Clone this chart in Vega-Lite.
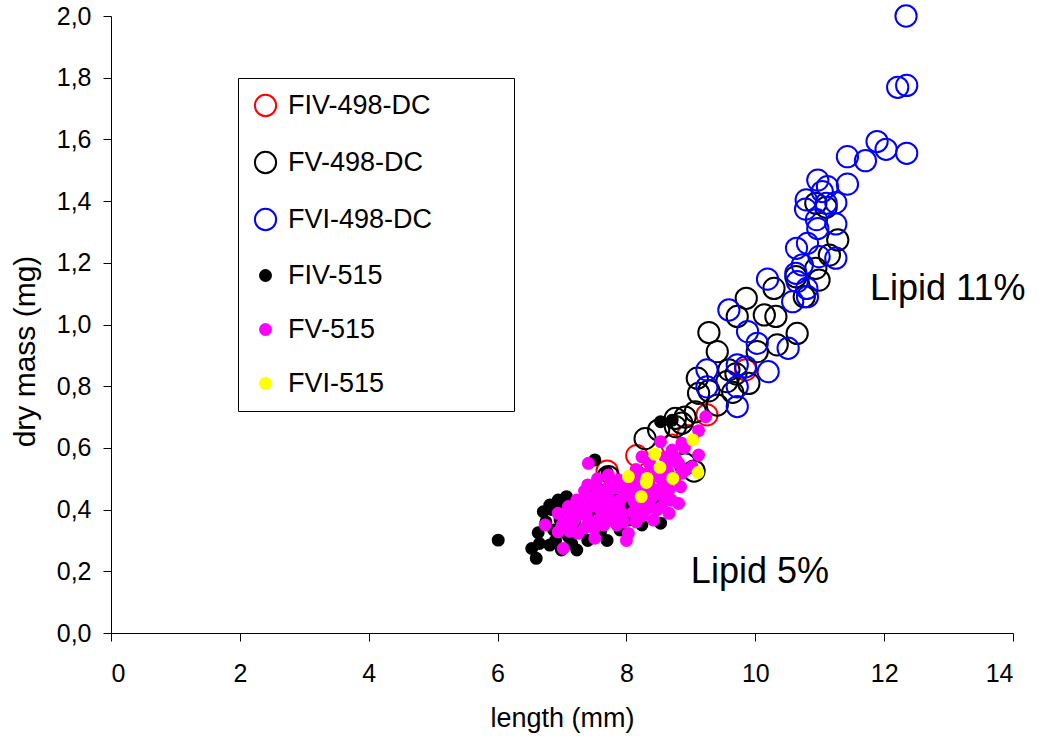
{
  "$schema": "https://vega.github.io/schema/vega-lite/v6.json",
  "width": 902,
  "height": 617,
  "autosize": {"type": "none"},
  "padding": {"left": 111, "top": 16, "right": 36, "bottom": 107},
  "background": "white",
  "config": {
    "view": {"stroke": null},
    "font": "Liberation Sans",
    "axis": {
      "grid": false,
      "domainColor": "#000000",
      "tickColor": "#000000",
      "domainWidth": 1,
      "tickWidth": 1,
      "tickSize": 8,
      "labelColor": "#000000",
      "titleColor": "#000000",
      "labelFont": "Liberation Sans",
      "titleFont": "Liberation Sans",
      "labelFontSize": 25,
      "titleFontSize": 27,
      "titleFontWeight": "normal"
    },
    "legend": {
      "labelLimit": 500
    }
  },
  "datasets": {
    "pts": [
      {"series": "FIV-498-DC", "length": 9.25, "mass": 0.707},
      {"series": "FIV-498-DC", "length": 8.95, "mass": 0.640},
      {"series": "FIV-498-DC", "length": 8.71, "mass": 0.609},
      {"series": "FIV-498-DC", "length": 8.16, "mass": 0.575},
      {"series": "FIV-498-DC", "length": 7.70, "mass": 0.525},
      {"series": "FIV-498-DC", "length": 7.51, "mass": 0.450},
      {"series": "FIV-498-DC", "length": 9.85, "mass": 0.853},
      {"series": "FIV-498-DC", "length": 8.45, "mass": 0.555},

      {"series": "FV-498-DC", "length": 8.29, "mass": 0.630},
      {"series": "FV-498-DC", "length": 8.50, "mass": 0.658},
      {"series": "FV-498-DC", "length": 8.76, "mass": 0.669},
      {"series": "FV-498-DC", "length": 7.72, "mass": 0.507},
      {"series": "FV-498-DC", "length": 8.91, "mass": 0.548},
      {"series": "FV-498-DC", "length": 9.05, "mass": 0.525},
      {"series": "FV-498-DC", "length": 8.86, "mass": 0.680},
      {"series": "FV-498-DC", "length": 8.76, "mass": 0.696},
      {"series": "FV-498-DC", "length": 8.91, "mass": 0.700},
      {"series": "FV-498-DC", "length": 9.07, "mass": 0.717},
      {"series": "FV-498-DC", "length": 9.12, "mass": 0.777},
      {"series": "FV-498-DC", "length": 9.28, "mass": 0.785},
      {"series": "FV-498-DC", "length": 9.41, "mass": 0.739},
      {"series": "FV-498-DC", "length": 9.10, "mass": 0.826},
      {"series": "FV-498-DC", "length": 9.56, "mass": 0.815},
      {"series": "FV-498-DC", "length": 9.90, "mass": 0.809},
      {"series": "FV-498-DC", "length": 9.59, "mass": 0.853},
      {"series": "FV-498-DC", "length": 9.70, "mass": 0.840},
      {"series": "FV-498-DC", "length": 9.65, "mass": 0.780},
      {"series": "FV-498-DC", "length": 9.41, "mass": 0.912},
      {"series": "FV-498-DC", "length": 10.03, "mass": 0.912},
      {"series": "FV-498-DC", "length": 9.28, "mass": 0.974},
      {"series": "FV-498-DC", "length": 9.72, "mass": 1.026},
      {"series": "FV-498-DC", "length": 9.86, "mass": 1.085},
      {"series": "FV-498-DC", "length": 10.14, "mass": 1.031},
      {"series": "FV-498-DC", "length": 10.32, "mass": 1.026},
      {"series": "FV-498-DC", "length": 10.34, "mass": 0.934},
      {"series": "FV-498-DC", "length": 10.65, "mass": 0.971},
      {"series": "FV-498-DC", "length": 10.29, "mass": 1.117},
      {"series": "FV-498-DC", "length": 10.99, "mass": 1.144},
      {"series": "FV-498-DC", "length": 10.63, "mass": 1.155},
      {"series": "FV-498-DC", "length": 10.94, "mass": 1.182},
      {"series": "FV-498-DC", "length": 11.15, "mass": 1.225},
      {"series": "FV-498-DC", "length": 11.28, "mass": 1.274},
      {"series": "FV-498-DC", "length": 10.94, "mass": 1.393},
      {"series": "FV-498-DC", "length": 11.10, "mass": 1.380},
      {"series": "FV-498-DC", "length": 10.76, "mass": 1.090},

      {"series": "FVI-498-DC", "length": 12.34, "mass": 2.000},
      {"series": "FVI-498-DC", "length": 12.21, "mass": 1.769},
      {"series": "FVI-498-DC", "length": 12.35, "mass": 1.775},
      {"series": "FVI-498-DC", "length": 11.89, "mass": 1.593},
      {"series": "FVI-498-DC", "length": 12.03, "mass": 1.568},
      {"series": "FVI-498-DC", "length": 12.35, "mass": 1.555},
      {"series": "FVI-498-DC", "length": 11.71, "mass": 1.531},
      {"series": "FVI-498-DC", "length": 11.43, "mass": 1.544},
      {"series": "FVI-498-DC", "length": 11.43, "mass": 1.455},
      {"series": "FVI-498-DC", "length": 10.97, "mass": 1.468},
      {"series": "FVI-498-DC", "length": 11.12, "mass": 1.447},
      {"series": "FVI-498-DC", "length": 11.04, "mass": 1.431},
      {"series": "FVI-498-DC", "length": 11.25, "mass": 1.395},
      {"series": "FVI-498-DC", "length": 10.79, "mass": 1.404},
      {"series": "FVI-498-DC", "length": 11.10, "mass": 1.393},
      {"series": "FVI-498-DC", "length": 10.78, "mass": 1.374},
      {"series": "FVI-498-DC", "length": 10.95, "mass": 1.340},
      {"series": "FVI-498-DC", "length": 10.97, "mass": 1.311},
      {"series": "FVI-498-DC", "length": 11.25, "mass": 1.326},
      {"series": "FVI-498-DC", "length": 10.81, "mass": 1.263},
      {"series": "FVI-498-DC", "length": 10.64, "mass": 1.247},
      {"series": "FVI-498-DC", "length": 11.25, "mass": 1.215},
      {"series": "FVI-498-DC", "length": 10.99, "mass": 1.220},
      {"series": "FVI-498-DC", "length": 10.73, "mass": 1.193},
      {"series": "FVI-498-DC", "length": 10.63, "mass": 1.166},
      {"series": "FVI-498-DC", "length": 10.65, "mass": 1.139},
      {"series": "FVI-498-DC", "length": 10.80, "mass": 1.117},
      {"series": "FVI-498-DC", "length": 10.19, "mass": 1.147},
      {"series": "FVI-498-DC", "length": 10.58, "mass": 1.074},
      {"series": "FVI-498-DC", "length": 10.81, "mass": 1.090},
      {"series": "FVI-498-DC", "length": 9.59, "mass": 1.047},
      {"series": "FVI-498-DC", "length": 9.88, "mass": 0.977},
      {"series": "FVI-498-DC", "length": 10.03, "mass": 0.939},
      {"series": "FVI-498-DC", "length": 10.51, "mass": 0.923},
      {"series": "FVI-498-DC", "length": 9.72, "mass": 0.869},
      {"series": "FVI-498-DC", "length": 9.85, "mass": 0.863},
      {"series": "FVI-498-DC", "length": 10.20, "mass": 0.847},
      {"series": "FVI-498-DC", "length": 9.25, "mass": 0.853},
      {"series": "FVI-498-DC", "length": 9.25, "mass": 0.798},
      {"series": "FVI-498-DC", "length": 9.72, "mass": 0.798},
      {"series": "FVI-498-DC", "length": 9.72, "mass": 0.734},

      {"series": "FIV-515", "length": 6.01, "mass": 0.301},
      {"series": "FIV-515", "length": 6.53, "mass": 0.274},
      {"series": "FIV-515", "length": 6.60, "mass": 0.242},
      {"series": "FIV-515", "length": 6.63, "mass": 0.325},
      {"series": "FIV-515", "length": 6.71, "mass": 0.393},
      {"series": "FIV-515", "length": 6.81, "mass": 0.415},
      {"series": "FIV-515", "length": 6.94, "mass": 0.431},
      {"series": "FIV-515", "length": 7.07, "mass": 0.442},
      {"series": "FIV-515", "length": 6.81, "mass": 0.285},
      {"series": "FIV-515", "length": 6.99, "mass": 0.269},
      {"series": "FIV-515", "length": 7.23, "mass": 0.269},
      {"series": "FIV-515", "length": 7.10, "mass": 0.312},
      {"series": "FIV-515", "length": 6.87, "mass": 0.334},
      {"series": "FIV-515", "length": 6.97, "mass": 0.366},
      {"series": "FIV-515", "length": 7.90, "mass": 0.334},
      {"series": "FIV-515", "length": 8.03, "mass": 0.366},
      {"series": "FIV-515", "length": 8.24, "mass": 0.350},
      {"series": "FIV-515", "length": 7.15, "mass": 0.399},
      {"series": "FIV-515", "length": 8.53, "mass": 0.356},
      {"series": "FIV-515", "length": 7.51, "mass": 0.561},
      {"series": "FIV-515", "length": 8.71, "mass": 0.690},
      {"series": "FIV-515", "length": 8.53, "mass": 0.685},
      {"series": "FIV-515", "length": 7.70, "mass": 0.520},
      {"series": "FIV-515", "length": 7.30, "mass": 0.400},
      {"series": "FIV-515", "length": 7.50, "mass": 0.380},
      {"series": "FIV-515", "length": 7.80, "mass": 0.450},
      {"series": "FIV-515", "length": 8.10, "mass": 0.480},
      {"series": "FIV-515", "length": 8.30, "mass": 0.450},
      {"series": "FIV-515", "length": 7.60, "mass": 0.330},
      {"series": "FIV-515", "length": 8.00, "mass": 0.420},
      {"series": "FIV-515", "length": 8.60, "mass": 0.500},
      {"series": "FIV-515", "length": 7.40, "mass": 0.470},
      {"series": "FIV-515", "length": 8.20, "mass": 0.520},
      {"series": "FIV-515", "length": 8.50, "mass": 0.420},
      {"series": "FIV-515", "length": 7.90, "mass": 0.390},
      {"series": "FIV-515", "length": 7.20, "mass": 0.360},
      {"series": "FIV-515", "length": 7.70, "mass": 0.300},
      {"series": "FIV-515", "length": 7.00, "mass": 0.330},
      {"series": "FIV-515", "length": 7.40, "mass": 0.300},
      {"series": "FIV-515", "length": 6.75, "mass": 0.360},
      {"series": "FIV-515", "length": 6.90, "mass": 0.300},
      {"series": "FIV-515", "length": 7.05, "mass": 0.360},
      {"series": "FIV-515", "length": 6.85, "mass": 0.400},
      {"series": "FIV-515", "length": 7.15, "mass": 0.290},
      {"series": "FIV-515", "length": 6.65, "mass": 0.290},
      {"series": "FIV-515", "length": 6.95, "mass": 0.400},
      {"series": "FIV-515", "length": 7.30, "mass": 0.330},

      {"series": "FV-515", "length": 9.23, "mass": 0.701},
      {"series": "FV-515", "length": 9.12, "mass": 0.656},
      {"series": "FV-515", "length": 8.53, "mass": 0.620},
      {"series": "FV-515", "length": 8.86, "mass": 0.615},
      {"series": "FV-515", "length": 7.41, "mass": 0.550},
      {"series": "FV-515", "length": 9.12, "mass": 0.577},
      {"series": "FV-515", "length": 9.02, "mass": 0.539},
      {"series": "FV-515", "length": 8.91, "mass": 0.528},
      {"series": "FV-515", "length": 8.63, "mass": 0.545},
      {"series": "FV-515", "length": 8.76, "mass": 0.566},
      {"series": "FV-515", "length": 8.24, "mass": 0.571},
      {"series": "FV-515", "length": 8.45, "mass": 0.534},
      {"series": "FV-515", "length": 7.72, "mass": 0.512},
      {"series": "FV-515", "length": 7.88, "mass": 0.496},
      {"series": "FV-515", "length": 8.03, "mass": 0.485},
      {"series": "FV-515", "length": 8.45, "mass": 0.464},
      {"series": "FV-515", "length": 8.66, "mass": 0.464},
      {"series": "FV-515", "length": 8.84, "mass": 0.474},
      {"series": "FV-515", "length": 8.81, "mass": 0.420},
      {"series": "FV-515", "length": 8.63, "mass": 0.442},
      {"series": "FV-515", "length": 8.47, "mass": 0.399},
      {"series": "FV-515", "length": 8.42, "mass": 0.366},
      {"series": "FV-515", "length": 8.03, "mass": 0.323},
      {"series": "FV-515", "length": 7.51, "mass": 0.307},
      {"series": "FV-515", "length": 7.25, "mass": 0.323},
      {"series": "FV-515", "length": 7.02, "mass": 0.274},
      {"series": "FV-515", "length": 6.94, "mass": 0.328},
      {"series": "FV-515", "length": 6.74, "mass": 0.350},
      {"series": "FV-515", "length": 7.05, "mass": 0.388},
      {"series": "FV-515", "length": 7.23, "mass": 0.431},
      {"series": "FV-515", "length": 7.46, "mass": 0.442},
      {"series": "FV-515", "length": 7.56, "mass": 0.464},
      {"series": "FV-515", "length": 7.72, "mass": 0.474},
      {"series": "FV-515", "length": 7.72, "mass": 0.366},
      {"series": "FV-515", "length": 7.93, "mass": 0.388},
      {"series": "FV-515", "length": 8.19, "mass": 0.410},
      {"series": "FV-515", "length": 8.14, "mass": 0.442},
      {"series": "FV-515", "length": 7.98, "mass": 0.453},
      {"series": "FV-515", "length": 7.31, "mass": 0.388},
      {"series": "FV-515", "length": 7.41, "mass": 0.356},
      {"series": "FV-515", "length": 7.56, "mass": 0.366},
      {"series": "FV-515", "length": 7.15, "mass": 0.356},
      {"series": "FV-515", "length": 7.83, "mass": 0.420},
      {"series": "FV-515", "length": 8.36, "mass": 0.496},
      {"series": "FV-515", "length": 8.55, "mass": 0.496},
      {"series": "FV-515", "length": 8.86, "mass": 0.518},
      {"series": "FV-515", "length": 8.71, "mass": 0.593},
      {"series": "FV-515", "length": 8.81, "mass": 0.550},
      {"series": "FV-515", "length": 8.36, "mass": 0.550},
      {"series": "FV-515", "length": 8.14, "mass": 0.507},
      {"series": "FV-515", "length": 7.72, "mass": 0.442},
      {"series": "FV-515", "length": 8.50, "mass": 0.518},
      {"series": "FV-515", "length": 8.55, "mass": 0.410},
      {"series": "FV-515", "length": 8.66, "mass": 0.388},
      {"series": "FV-515", "length": 8.36, "mass": 0.410},
      {"series": "FV-515", "length": 7.46, "mass": 0.410},
      {"series": "FV-515", "length": 7.10, "mass": 0.410},
      {"series": "FV-515", "length": 6.94, "mass": 0.388},
      {"series": "FV-515", "length": 8.00, "mass": 0.300},
      {"series": "FV-515", "length": 7.20, "mass": 0.370},
      {"series": "FV-515", "length": 7.60, "mass": 0.400},
      {"series": "FV-515", "length": 7.90, "mass": 0.430},
      {"series": "FV-515", "length": 8.20, "mass": 0.470},
      {"series": "FV-515", "length": 8.30, "mass": 0.430},
      {"series": "FV-515", "length": 7.40, "mass": 0.480},
      {"series": "FV-515", "length": 7.00, "mass": 0.350},
      {"series": "FV-515", "length": 7.30, "mass": 0.420},
      {"series": "FV-515", "length": 7.50, "mass": 0.340},
      {"series": "FV-515", "length": 7.65, "mass": 0.430},
      {"series": "FV-515", "length": 7.80, "mass": 0.380},
      {"series": "FV-515", "length": 7.95, "mass": 0.360},
      {"series": "FV-515", "length": 8.10, "mass": 0.390},
      {"series": "FV-515", "length": 8.25, "mass": 0.380},
      {"series": "FV-515", "length": 8.40, "mass": 0.440},
      {"series": "FV-515", "length": 8.60, "mass": 0.480},
      {"series": "FV-515", "length": 8.75, "mass": 0.500},
      {"series": "FV-515", "length": 7.85, "mass": 0.470},
      {"series": "FV-515", "length": 8.05, "mass": 0.460},
      {"series": "FV-515", "length": 7.55, "mass": 0.500},
      {"series": "FV-515", "length": 7.35, "mass": 0.460},
      {"series": "FV-515", "length": 8.15, "mass": 0.530},
      {"series": "FV-515", "length": 8.60, "mass": 0.570},
      {"series": "FV-515", "length": 8.90, "mass": 0.600},
      {"series": "FV-515", "length": 7.15, "mass": 0.380},
      {"series": "FV-515", "length": 7.65, "mass": 0.350},
      {"series": "FV-515", "length": 8.30, "mass": 0.400},
      {"series": "FV-515", "length": 7.25, "mass": 0.400},
      {"series": "FV-515", "length": 7.38, "mass": 0.380},
      {"series": "FV-515", "length": 7.50, "mass": 0.420},
      {"series": "FV-515", "length": 7.62, "mass": 0.385},
      {"series": "FV-515", "length": 7.75, "mass": 0.410},
      {"series": "FV-515", "length": 7.88, "mass": 0.405},
      {"series": "FV-515", "length": 8.00, "mass": 0.445},
      {"series": "FV-515", "length": 8.12, "mass": 0.425},
      {"series": "FV-515", "length": 8.25, "mass": 0.455},
      {"series": "FV-515", "length": 8.38, "mass": 0.470},
      {"series": "FV-515", "length": 8.52, "mass": 0.450},
      {"series": "FV-515", "length": 8.65, "mass": 0.520},
      {"series": "FV-515", "length": 8.28, "mass": 0.515},
      {"series": "FV-515", "length": 7.95, "mass": 0.475},
      {"series": "FV-515", "length": 7.60, "mass": 0.440},
      {"series": "FV-515", "length": 7.35, "mass": 0.340},
      {"series": "FV-515", "length": 7.85, "mass": 0.350},
      {"series": "FV-515", "length": 8.15, "mass": 0.360},
      {"series": "FV-515", "length": 7.12, "mass": 0.330},
      {"series": "FV-515", "length": 8.70, "mass": 0.430},

      {"series": "FVI-515", "length": 9.03, "mass": 0.626},
      {"series": "FVI-515", "length": 8.44, "mass": 0.580},
      {"series": "FVI-515", "length": 8.52, "mass": 0.537},
      {"series": "FVI-515", "length": 9.11, "mass": 0.520},
      {"series": "FVI-515", "length": 8.03, "mass": 0.507},
      {"series": "FVI-515", "length": 8.32, "mass": 0.501},
      {"series": "FVI-515", "length": 8.31, "mass": 0.488},
      {"series": "FVI-515", "length": 8.72, "mass": 0.501},
      {"series": "FVI-515", "length": 8.23, "mass": 0.442}
    ],
    "notes": [
      {"length": 11.78, "mass": 1.078, "label": "Lipid 11%"},
      {"length": 9.0, "mass": 0.162, "label": "Lipid 5%"}
    ]
  },
  "layer": [
    {
      "data": {"name": "pts"},
      "mark": {"type": "point", "filled": true, "opacity": 1, "strokeWidth": 2},
      "encoding": {
        "x": {
          "field": "length", "type": "quantitative",
          "scale": {"domain": [0, 14], "nice": false, "zero": true},
          "axis": {"values": [0, 2, 4, 6, 8, 10, 12, 14], "format": "d", "title": "length (mm)", "labelPadding": 20, "titlePadding": 19}
        },
        "y": {
          "field": "mass", "type": "quantitative",
          "scale": {"domain": [0, 2], "nice": false},
          "axis": {"values": [0, 0.2, 0.4, 0.6, 0.8, 1.0, 1.2, 1.4, 1.6, 1.8, 2.0], "labelExpr": "replace(format(datum.value, '.1f'), '.', ',')", "title": "dry mass (mg)", "labelPadding": 12, "titleFontSize": 30, "titleX": -71, "titleY": 335}
        },
        "fill": {
          "field": "series", "type": "nominal",
          "scale": {
            "type": "ordinal",
            "domain": ["FIV-498-DC", "FV-498-DC", "FVI-498-DC", "FIV-515", "FV-515", "FVI-515"],
            "range": ["transparent", "transparent", "transparent", "#000000", "#ff00ff", "#ffff00"]
          },
          "legend": {
            "title": null, "orient": "none", "legendX": 127, "legendY": 62,
            "strokeColor": "#000000", "fillColor": "#ffffff", "padding": 14,
            "labelFontSize": 27, "labelFont": "Liberation Sans", "labelColor": "#000000",
            "labelLimit": 500,
            "rowPadding": 26, "labelOffset": 9, "symbolStrokeWidth": 2,
            "labelExpr": "datum.label + '\\u00a0\\u00a0\\u00a0\\u00a0\\u00a0\\u00a0\\u00a0\\u00a0\\u00a0\\u200b'"
          }
        },
        "stroke": {
          "field": "series", "type": "nominal",
          "scale": {
            "type": "ordinal",
            "domain": ["FIV-498-DC", "FV-498-DC", "FVI-498-DC", "FIV-515", "FV-515", "FVI-515"],
            "range": ["#ff0000", "#000000", "#0000ff", "#000000", "#ff00ff", "#ffff00"]
          },
          "legend": {
            "title": null, "orient": "none", "legendX": 127, "legendY": 62,
            "strokeColor": "#000000", "fillColor": "#ffffff", "padding": 14,
            "labelFontSize": 27, "labelFont": "Liberation Sans", "labelColor": "#000000",
            "labelLimit": 500,
            "rowPadding": 26, "labelOffset": 9, "symbolStrokeWidth": 2,
            "labelExpr": "datum.label + '\\u00a0\\u00a0\\u00a0\\u00a0\\u00a0\\u00a0\\u00a0\\u00a0\\u00a0\\u200b'"
          }
        },
        "size": {
          "field": "series", "type": "nominal",
          "scale": {
            "type": "ordinal",
            "domain": ["FIV-498-DC", "FV-498-DC", "FVI-498-DC", "FIV-515", "FV-515", "FVI-515"],
            "range": [452, 452, 452, 120, 120, 120]
          },
          "legend": {
            "title": null, "orient": "none", "legendX": 127, "legendY": 62,
            "strokeColor": "#000000", "fillColor": "#ffffff", "padding": 14,
            "labelFontSize": 27, "labelFont": "Liberation Sans", "labelColor": "#000000",
            "labelLimit": 500,
            "rowPadding": 26, "labelOffset": 9, "symbolStrokeWidth": 2,
            "labelExpr": "datum.label + '\\u00a0\\u00a0\\u00a0\\u00a0\\u00a0\\u00a0\\u00a0\\u00a0\\u00a0\\u200b'"
          }
        }
      }
    },
    {
      "data": {"name": "notes"},
      "mark": {"type": "text", "align": "left", "baseline": "alphabetic", "fontSize": 36, "font": "Liberation Sans", "color": "#000000"},
      "encoding": {
        "x": {"field": "length", "type": "quantitative"},
        "y": {"field": "mass", "type": "quantitative"},
        "text": {"field": "label", "type": "nominal"}
      }
    }
  ]
}
